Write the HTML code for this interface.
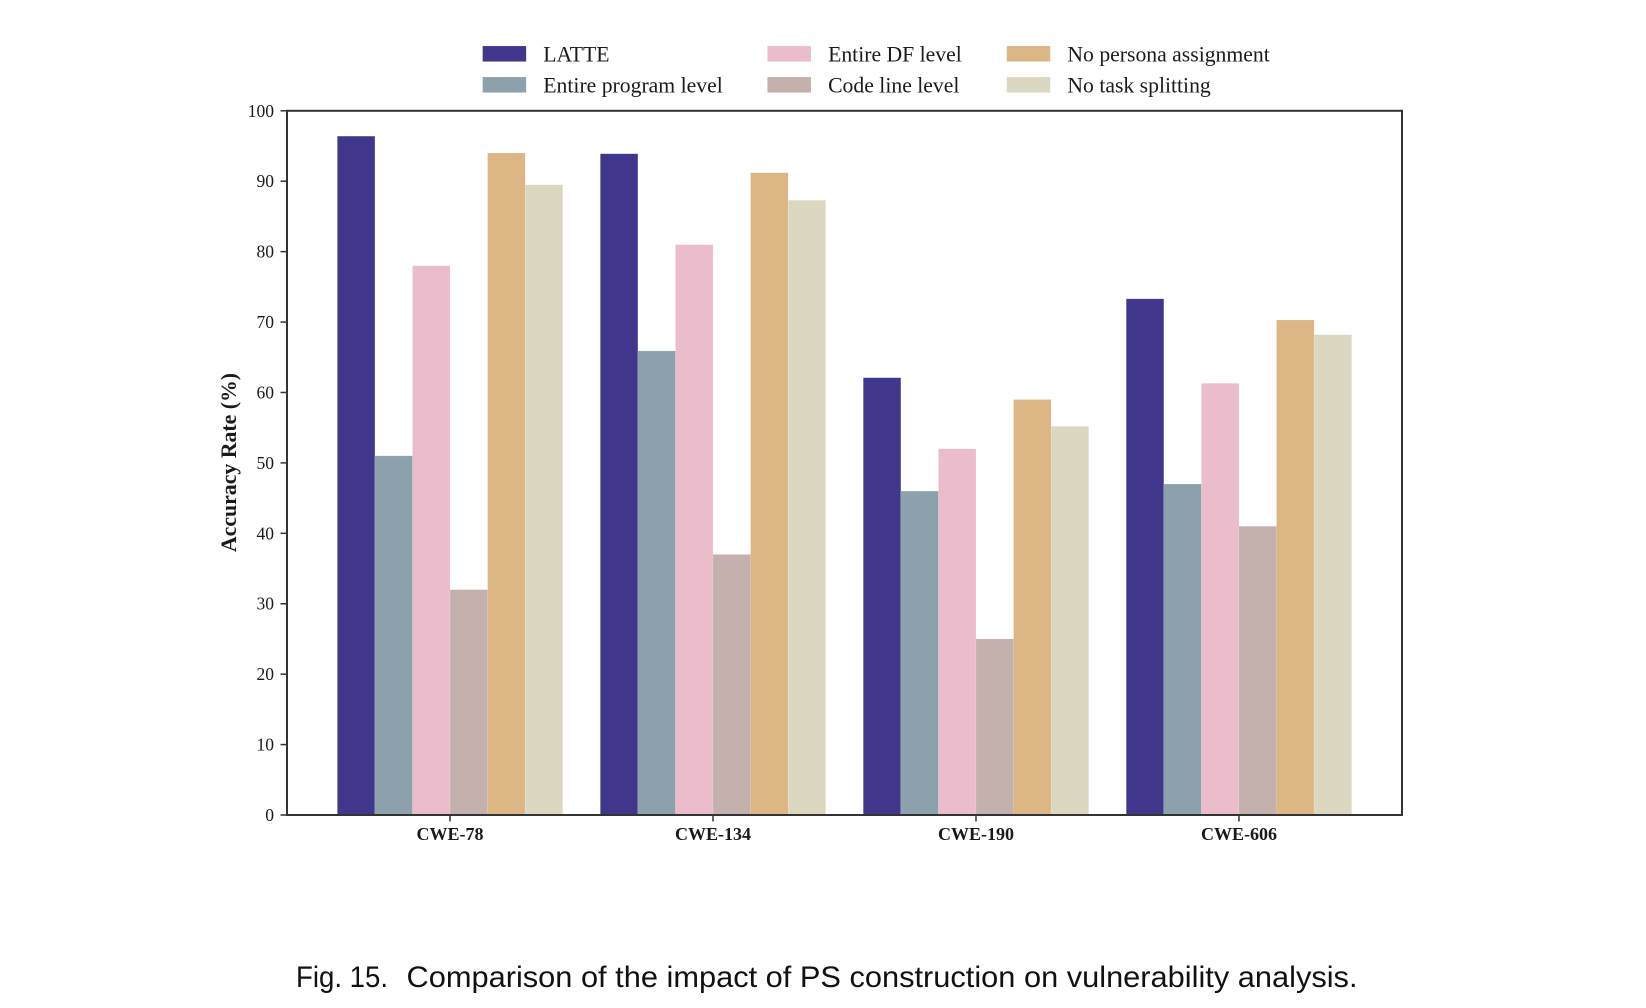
<!DOCTYPE html>
<html lang="en">
<head>
<meta charset="utf-8">
<title>Fig. 15 PS construction comparison</title>
<style>
  html, body { margin: 0; padding: 0; background: #fff; }
  body { width: 1646px; height: 1008px; overflow: hidden; }
  svg { display: block; filter: blur(0.35px); }
  text { font-family: "Liberation Serif", serif; fill: #1a1a1a; }
  .caption { font-family: "Liberation Sans", sans-serif; fill: #111; }
</style>
</head>
<body>
<svg id="chart" xmlns="http://www.w3.org/2000/svg" width="1646" height="1008" viewBox="0 0 1646 1008">
  <rect x="0" y="0" width="1646" height="1008" fill="#ffffff"/>
  <text class="caption" x="296" y="987" font-size="30" textLength="92" lengthAdjust="spacingAndGlyphs">Fig. 15.</text>
  <text class="caption" x="406.5" y="987" font-size="30" textLength="951" lengthAdjust="spacingAndGlyphs">Comparison of the impact of PS construction on vulnerability analysis.</text>
</svg>
<script>
const categories = ["CWE-78", "CWE-134", "CWE-190", "CWE-606"];
const seriesNames = ["LATTE", "Entire program level", "Entire DF level", "Code line level", "No persona assignment", "No task splitting"];
const latte = [96.4, 93.9, 62.1, 73.3];
const entireProgram = [51, 65.9, 46, 47];
const entireDf = [78, 81, 52, 61.3];
const codeLine = [32, 37, 25, 41];
const noPersona = [94, 91.2, 59, 70.3];
const noTask = [89.5, 87.3, 55.2, 68.2];
const yTickLabels = [0, 10, 20, 30, 40, 50, 60, 70, 80, 90, 100];
const seriesColors = ["#40378c", "#8ca1ac", "#ebbdcc", "#c4b0ad", "#dcb684", "#dcd7c0"];

const seriesValues = [latte, entireProgram, entireDf, codeLine, noPersona, noTask];

const svg = document.getElementById('chart');
const NS = 'http://www.w3.org/2000/svg';
const plot = { left: 287, right: 1402, top: 110.8, bottom: 815 };
const yMax = 100;
const xPad = 0.62;
const groupWidth = 6 / 7;

function xScale(v) {
  const lo = -xPad;
  const hi = categories.length - 1 + xPad;
  return plot.left + (v - lo) / (hi - lo) * (plot.right - plot.left);
}
function yScale(v) {
  return plot.bottom - v / yMax * (plot.bottom - plot.top);
}
function make(tag, attrs, text) {
  const el = document.createElementNS(NS, tag);
  for (const k in attrs) el.setAttribute(k, attrs[k]);
  if (text !== undefined) el.textContent = text;
  svg.appendChild(el);
  return el;
}
function slug(s) {
  return String(s).toLowerCase().replace(/[^a-z0-9]+/g, '-');
}

/* bars */
const barWidth = xScale(groupWidth / seriesValues.length) - xScale(0);
seriesValues.forEach(function (values, s) {
  values.forEach(function (v, c) {
    const x = xScale(c - groupWidth / 2 + s * groupWidth / seriesValues.length);
    const y = yScale(v);
    const bar = make('rect', {
      x: x, y: y, width: barWidth, height: yScale(0) - y,
      fill: seriesColors[s], stroke: '#ffffff', 'stroke-opacity': 0.25, 'stroke-width': 0.5
    });
    
    
  });
});

/* frame */
const frame = make('rect', {
  x: plot.left, y: plot.top, width: plot.right - plot.left, height: plot.bottom - plot.top,
  fill: 'none', stroke: '#333333', 'stroke-width': 2
});



/* y axis */
yTickLabels.forEach(function (t) {
  const y = yScale(t);
  const tick = make('line', { x1: plot.left - 6.5, x2: plot.left, y1: y, y2: y, stroke: '#333333', 'stroke-width': 1.5 });
  
  
  const label = make('text', { x: plot.left - 13, y: y + 6, 'text-anchor': 'end', 'font-size': 17.5 }, String(t));
  
  
});

/* x axis */
categories.forEach(function (name, c) {
  const x = xScale(c);
  const tick = make('line', { x1: x, x2: x, y1: plot.bottom, y2: plot.bottom + 6.5, stroke: '#333333', 'stroke-width': 1.5 });
  
  
  const label = make('text', { x: x, y: plot.bottom + 25.2, 'text-anchor': 'middle', 'font-size': 18, 'font-weight': 'bold' }, name);
  
  
});

/* y axis title */
const yTitle = make('text', {
  x: 0, y: 0, 'text-anchor': 'middle', 'font-size': 21.8, 'font-weight': 'bold',
  transform: 'translate(236 462.5) rotate(-90)'
}, 'Accuracy Rate (%)');



/* legend: filled column by column, two rows each */
const legendColumns = [482.6, 767.4, 1006.7];
const legendRows = [46, 77];
seriesNames.forEach(function (name, s) {
  const col = Math.floor(s / 2);
  const row = s % 2;
  const swatch = make('rect', {
    x: legendColumns[col], y: legendRows[row], width: 43.6, height: 15.6,
    fill: seriesColors[s], stroke: '#ffffff', 'stroke-opacity': 0.25, 'stroke-width': 0.5
  });
  
  
  const label = make('text', { x: legendColumns[col] + 60.7, y: legendRows[row] + 15.5, 'font-size': 21.7 }, name);
  
  
});
</script>
</body>
</html>
